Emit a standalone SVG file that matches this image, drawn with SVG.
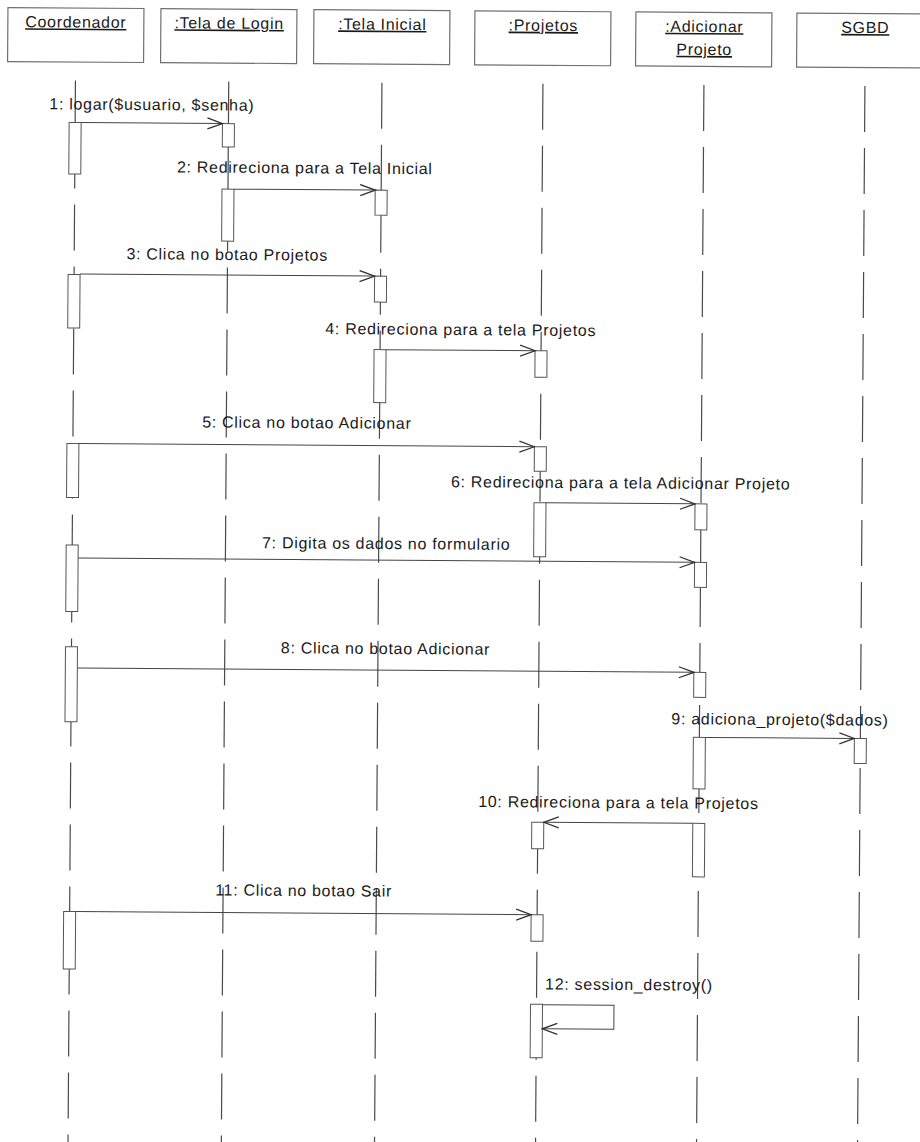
<svg xmlns="http://www.w3.org/2000/svg" width="920" height="1142" viewBox="0 0 920 1142">
<defs>
<style>
.hd{fill:#fff;stroke:#707070;stroke-width:1.2}
.ht{font-family:"Liberation Sans",Arial,sans-serif;font-size:16px;letter-spacing:0.7px;fill:#1a1a1a;text-anchor:middle;text-decoration:underline}
.ll{stroke:#4a4a4a;stroke-width:1.2;stroke-dasharray:46 16;fill:none}
.act{fill:#fff;stroke:#555;stroke-width:1}
.msg{stroke:#444;stroke-width:1;fill:none;marker-end:url(#open)}
.lb{font-family:"Liberation Sans",Arial,sans-serif;font-size:16px;letter-spacing:0.7px;fill:#1a1a1a;text-anchor:middle}
</style>
<marker id="open" markerWidth="17" markerHeight="13" refX="15.5" refY="6.5" orient="auto" markerUnits="userSpaceOnUse">
<path d="M0.5,1 L15.5,6.5 L0.5,12" fill="none" stroke="#333" stroke-width="1.3"/>
</marker>
</defs>
<rect width="920" height="1142" fill="#fff"/>
<g transform="rotate(0.4)">
<g id="lifelines">
<line class="ll" x1="76" y1="80" x2="76" y2="1160"/>
<line class="ll" x1="229.3" y1="80" x2="229.3" y2="1160"/>
<line class="ll" x1="382.5" y1="80" x2="382.5" y2="1160"/>
<line class="ll" x1="543.5" y1="80" x2="543.5" y2="1160"/>
<line class="ll" x1="704.5" y1="80" x2="704.5" y2="1160"/>
<line class="ll" x1="865.5" y1="80" x2="865.5" y2="1160"/>
</g>
<g id="coordenador">
<rect class="hd" x="8" y="7.5" width="136" height="54"/>
<text class="ht" x="76" y="27">Coordenador</text>
<rect class="act" x="70" y="122" width="12" height="51.5"/>
<rect class="act" x="70" y="274" width="12" height="53.5"/>
<rect class="act" x="70" y="443" width="12" height="54"/>
<rect class="act" x="70" y="544.5" width="12" height="66.5"/>
<rect class="act" x="70" y="646.2" width="12" height="75"/>
<rect class="act" x="70" y="911" width="12" height="57.5"/>
</g>
<g id="tela-login">
<rect class="hd" x="161" y="7.5" width="136" height="54"/>
<text class="ht" x="229.3" y="27">:Tela de Login</text>
<rect class="act" x="223.3" y="122" width="12" height="23.4"/>
<rect class="act" x="223.3" y="187.5" width="12" height="52"/>
</g>
<g id="tela-inicial">
<rect class="hd" x="314" y="7.5" width="136" height="54"/>
<text class="ht" x="382.5" y="27">:Tela Inicial</text>
<rect class="act" x="376.5" y="187.5" width="12" height="25"/>
<rect class="act" x="376.5" y="273.5" width="12" height="26"/>
<rect class="act" x="376.5" y="347" width="12" height="53"/>
</g>
<g id="projetos">
<rect class="hd" x="475" y="7.5" width="136" height="54"/>
<text class="ht" x="543.5" y="27">:Projetos</text>
<rect class="act" x="537.5" y="347" width="12" height="26.5"/>
<rect class="act" x="537.5" y="443" width="12" height="24.5"/>
<rect class="act" x="537.5" y="499" width="12" height="54"/>
<rect class="act" x="537.5" y="818.5" width="12" height="26.5"/>
<rect class="act" x="537.5" y="911" width="12" height="26.5"/>
<rect class="act" x="537.5" y="1000.5" width="12" height="53.5"/>
</g>
<g id="adicionar-projeto">
<rect class="hd" x="636" y="7.5" width="136" height="54"/>
<text class="ht" x="704.5" y="27">:Adicionar</text>
<text class="ht" x="704.5" y="50">Projeto</text>
<rect class="act" x="698.5" y="499" width="12" height="26"/>
<rect class="act" x="698.5" y="557.5" width="12" height="25"/>
<rect class="act" x="698.5" y="667.5" width="12" height="25"/>
<rect class="act" x="698.5" y="732.5" width="12" height="51.5"/>
<rect class="act" x="698.5" y="818.5" width="12" height="53.5"/>
</g>
<g id="sgbd">
<rect class="hd" x="797" y="7.5" width="136" height="54"/>
<text class="ht" x="865.5" y="27">SGBD</text>
<rect class="act" x="859.5" y="732.5" width="12" height="25"/>
</g>
<g id="connectors">
<line class="msg" x1="82" y1="122" x2="223.3" y2="122"/>
<line class="msg" x1="235.3" y1="187.5" x2="376.5" y2="187.5"/>
<line class="msg" x1="82" y1="273.5" x2="376.5" y2="273.5"/>
<line class="msg" x1="388.5" y1="347" x2="537.5" y2="347"/>
<line class="msg" x1="82" y1="443" x2="537.5" y2="443"/>
<line class="msg" x1="549.5" y1="499" x2="698.5" y2="499"/>
<line class="msg" x1="82" y1="557.5" x2="698.5" y2="557.5"/>
<line class="msg" x1="82" y1="667.5" x2="698.5" y2="667.5"/>
<line class="msg" x1="710.5" y1="732.5" x2="859.5" y2="732.5"/>
<line class="msg" x1="698.5" y1="818.5" x2="549.5" y2="818.5"/>
<line class="msg" x1="82" y1="911" x2="537.5" y2="911"/>
<polyline class="msg" points="549.5,1001 621,1001 621,1025 549.5,1025"/>
</g>
<g id="labels">
<text class="lb" x="152.6" y="109">1: logar($usuario, $senha)</text>
<text class="lb" x="306" y="171.2">2: Redireciona para a Tela Inicial</text>
<text class="lb" x="229" y="258.4">3: Clica no botao Projetos</text>
<text class="lb" x="463" y="331.8">4: Redireciona para a tela Projetos</text>
<text class="lb" x="309.8" y="426">5: Clica no botao Adicionar</text>
<text class="lb" x="624" y="484">6: Redireciona para a tela Adicionar Projeto</text>
<text class="lb" x="390" y="546.3">7: Digita os dados no formulario</text>
<text class="lb" x="390" y="651.3">8: Clica no botao Adicionar</text>
<text class="lb" x="785" y="719.5">9: adiciona_projeto($dados)</text>
<text class="lb" x="624" y="803.7">10: Redireciona para a tela Projetos</text>
<text class="lb" x="309.8" y="893.9">11: Clica no botao Sair</text>
<text class="lb" x="552" y="985.7" style="text-anchor:start">12: session_destroy()</text>
</g>
</g>
</svg>
